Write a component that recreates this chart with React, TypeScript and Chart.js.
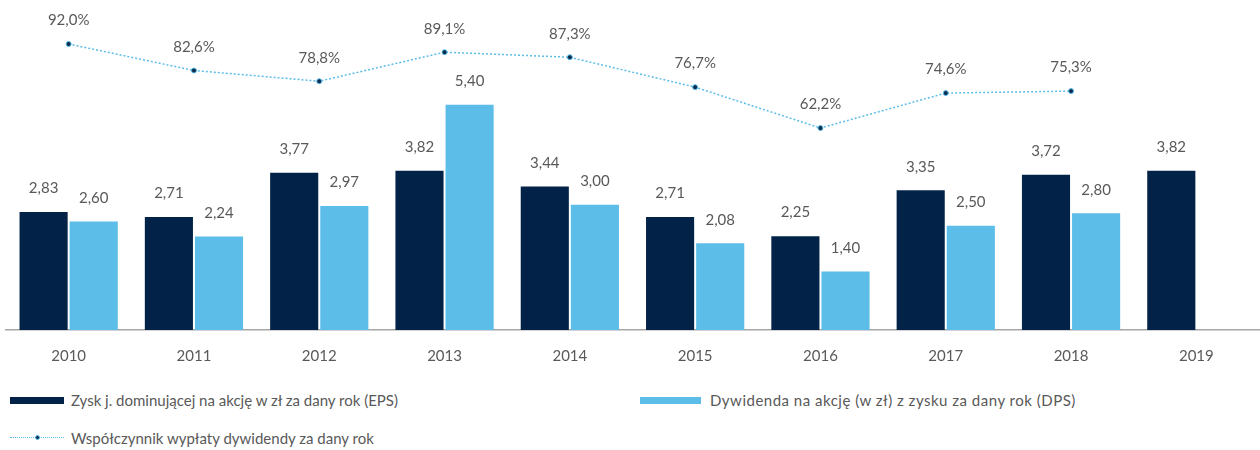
import React, { useEffect, useRef } from "react";
import { Chart, registerables } from "chart.js";

Chart.register(...registerables);

const years = ["2010", "2011", "2012", "2013", "2014", "2015", "2016", "2017", "2018", "2019"];
const eps = [2.83, 2.71, 3.77, 3.82, 3.44, 2.71, 2.25, 3.35, 3.72, 3.82];
const dps = [2.6, 2.24, 2.97, 5.4, 3.0, 2.08, 1.4, 2.5, 2.8, null];
const payout = [92.0, 82.6, 78.8, 89.1, 87.3, 76.7, 62.2, 74.6, 75.3, null];

const labelEPS = "Zysk j. dominującej na akcję w zł za dany rok (EPS)";
const labelDPS = "Dywidenda na akcję (w zł) z zysku za dany rok (DPS)";
const labelPayout = "Współczynnik wypłaty dywidendy za dany rok";

const NAVY = "#022347";
const LIGHT = "#5bbde8";
const TEXT = "#595959";
const FONT = "Lato, 'Open Sans', sans-serif";

const fmt = (v: number, d: number) => v.toFixed(d).replace(".", ",");

const labelPlugin = {
  id: "valueLabels",
  afterDatasetsDraw(chart: any) {
    const ctx = chart.ctx;
    ctx.save();
    ctx.fillStyle = TEXT;
    ctx.font = `15px ${FONT}`;
    ctx.textAlign = "center";
    ctx.textBaseline = "bottom";
    chart.data.datasets.forEach((ds: any, di: number) => {
      const meta = chart.getDatasetMeta(di);
      meta.data.forEach((el: any, i: number) => {
        const v = ds.data[i];
        if (v === null || v === undefined) return;
        if (ds.type === "line") {
          ctx.fillText(fmt(v, 1) + "%", el.x, el.y - 16);
        } else {
          ctx.fillText(fmt(v, 2), el.x, el.y - 16);
        }
      });
    });
    ctx.restore();
  },
};

export default function App() {
  const ref = useRef<HTMLCanvasElement | null>(null);
  useEffect(() => {
    if (!ref.current) return;
    const chart = new Chart(ref.current, {
      type: "bar",
      data: {
        labels: years,
        datasets: [
          {
            type: "line",
            label: labelPayout,
            data: payout,
            yAxisID: "y1",
            borderColor: LIGHT,
            borderWidth: 1.5,
            borderDash: [2, 2],
            pointRadius: 2.5,
            pointBackgroundColor: "#0b2b4f",
            pointBorderColor: LIGHT,
            pointBorderWidth: 1,
            tension: 0,
            fill: false,
          } as any,
          {
            type: "bar",
            label: labelEPS,
            data: eps,
            yAxisID: "y",
            backgroundColor: NAVY,
            barPercentage: 0.96,
            categoryPercentage: 0.8,
          },
          {
            type: "bar",
            label: labelDPS,
            data: dps,
            yAxisID: "y",
            backgroundColor: LIGHT,
            barPercentage: 0.96,
            categoryPercentage: 0.8,
          },
        ],
      },
      options: {
        animation: false,
        responsive: false,
        layout: { autoPadding: false, padding: { left: 6, right: 1, top: 0, bottom: 0 } },
        plugins: { legend: { display: false }, tooltip: { enabled: false } },
        scales: {
          x: {
            grid: { display: false, drawTicks: false },
            border: { display: true, color: "#a6a6a6", width: 1.5 },
            ticks: { color: TEXT, font: { family: FONT, size: 15 }, padding: 17 },
            afterFit: (s: any) => {
              s.height = 40;
            },
          },
          y: { display: false, min: 0, max: 7.91 },
          y1: { display: false, min: -9.4, max: 107.6, position: "right" },
        },
      },
      plugins: [labelPlugin],
    });
    return () => chart.destroy();
  }, []);

  const legendText: React.CSSProperties = {
    position: "absolute",
    fontFamily: FONT,
    fontSize: 15,
    color: TEXT,
    lineHeight: "18px",
    whiteSpace: "nowrap",
  };

  return (
    <div style={{ position: "absolute", left: 0, top: 0, width: 1260, height: 450, background: "#fff" }}>
      <canvas ref={ref} width={1260} height={370} style={{ display: "block" }} />
      <div style={{ position: "absolute", left: 10, top: 397, width: 54, height: 7, background: NAVY }} />
      <div style={{ ...legendText, left: 71, top: 391 }}>{labelEPS}</div>
      <div style={{ position: "absolute", left: 640, top: 397, width: 61, height: 7, background: LIGHT }} />
      <div style={{ ...legendText, left: 710, top: 391, letterSpacing: 0.5 }}>{labelDPS}</div>
      <div style={{ position: "absolute", left: 10, top: 437, width: 54, height: 0, borderTop: `1.5px dotted ${LIGHT}` }} />
      <div style={{ position: "absolute", left: 35, top: 435, width: 5, height: 5, borderRadius: 3, background: "#0b2b4f", border: `1px solid ${LIGHT}`, boxSizing: "border-box" }} />
      <div style={{ ...legendText, left: 71, top: 429 }}>{labelPayout}</div>
    </div>
  );
}
